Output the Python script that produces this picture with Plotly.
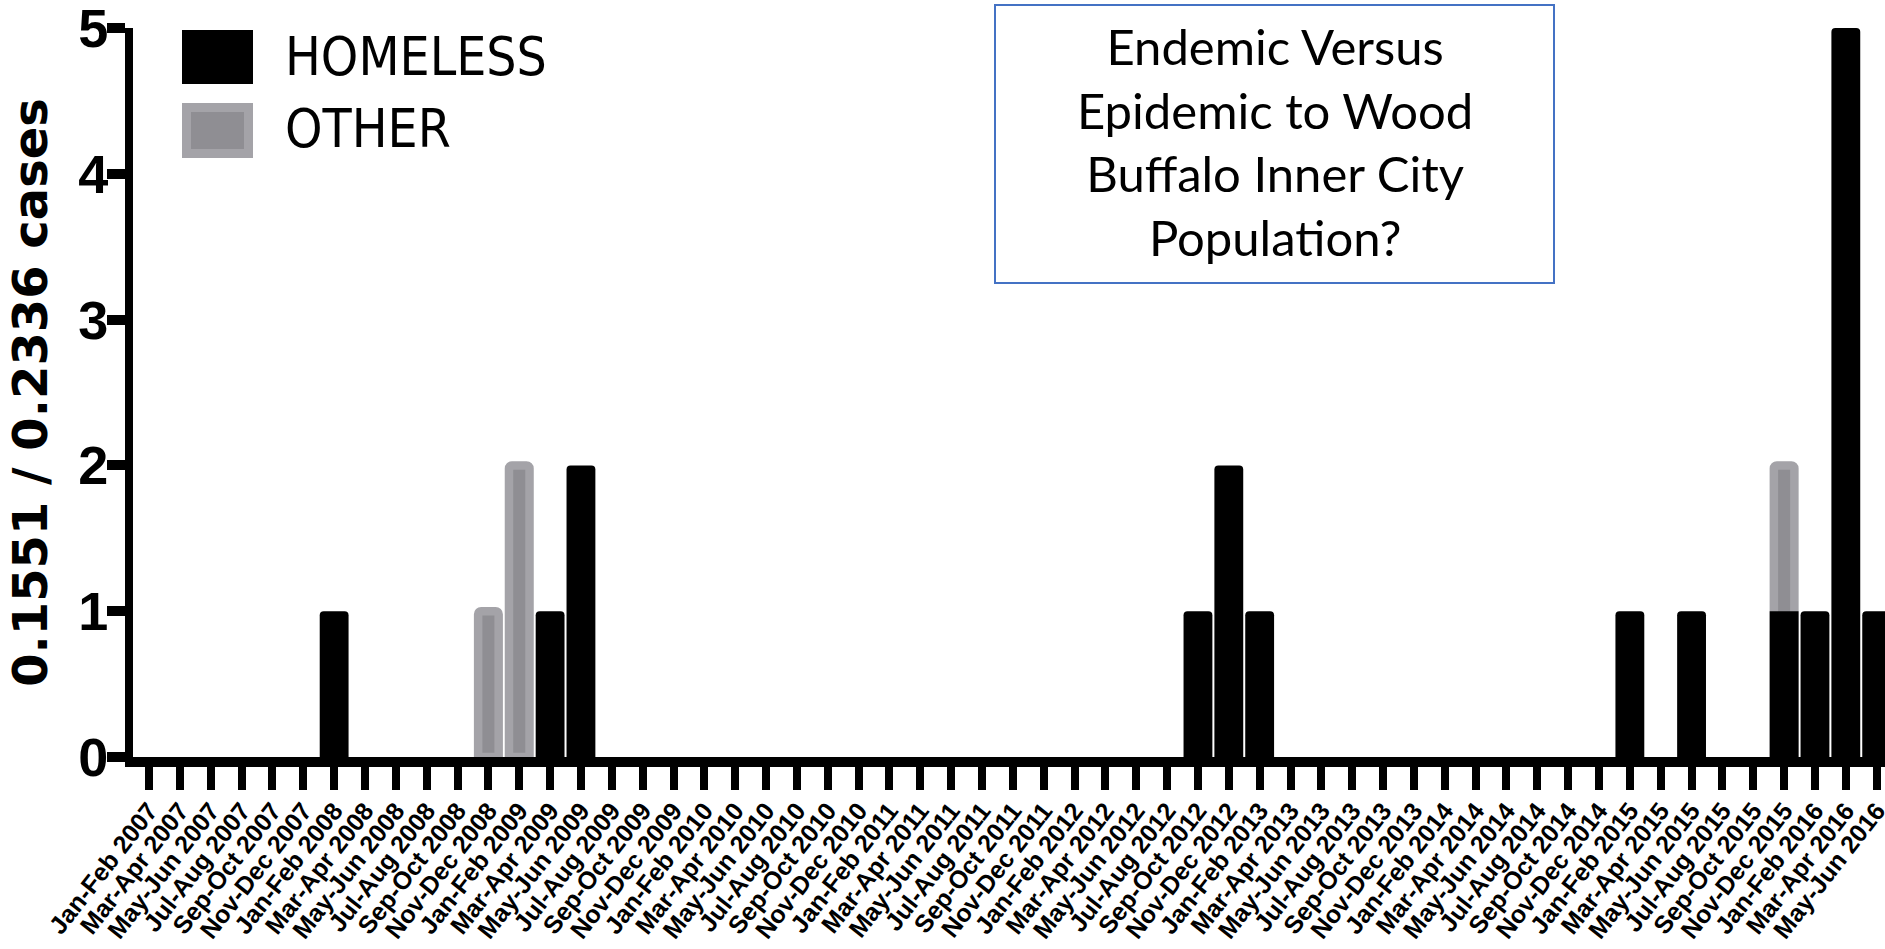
import plotly.graph_objects as go

# ---------------- data ----------------
months = ["Jan-Feb", "Mar-Apr", "May-Jun", "Jul-Aug", "Sep-Oct", "Nov-Dec"]
years = [2007, 2008, 2009, 2010, 2011, 2012, 2013, 2014, 2015, 2016]
periods = [f"{m} {y}" for y in years for m in months][:57]

homeless = [
    0, 0, 0, 0, 0, 0,   # 2007
    1, 0, 0, 0, 0, 0,   # 2008
    0, 1, 2, 0, 0, 0,   # 2009
    0, 0, 0, 0, 0, 0,   # 2010
    0, 0, 0, 0, 0, 0,   # 2011
    0, 0, 0, 0, 1, 2,   # 2012
    1, 0, 0, 0, 0, 0,   # 2013
    0, 0, 0, 0, 0, 0,   # 2014
    1, 0, 1, 0, 0, 1,   # 2015
    1, 5, 1,            # 2016
]
other = [
    0, 0, 0, 0, 0, 0,   # 2007
    0, 0, 0, 0, 0, 1,   # 2008
    2, 0, 0, 0, 0, 0,   # 2009
    0, 0, 0, 0, 0, 0,   # 2010
    0, 0, 0, 0, 0, 0,   # 2011
    0, 0, 0, 0, 0, 0,   # 2012
    0, 0, 0, 0, 0, 0,   # 2013
    0, 0, 0, 0, 0, 0,   # 2014
    0, 0, 0, 0, 0, 2,   # 2015
    0, 0, 0,            # 2016
]
y_ticks = [0, 1, 2, 3, 4, 5]
y_title = "0.1551 / 0.2336 cases"
box_text = "Endemic Versus<br>Epidemic to Wood<br>Buffalo Inner City<br>Population?"

# ---------------- layout geometry ----------------
W, H = 1885, 949
L, R, T, B = 133, 0, 28, 192
PW, PH = W - L - R, H - T - B


def px_x(p):
    return (p - L) / PW


def px_y(p):
    return (H - B - p) / PH


BLACK = "#000000"
GRAY_IN = "#8f8e93"
GRAY_OUT = "#a4a3a8"

fig = go.Figure()
fig.add_trace(go.Bar(
    x=periods, y=other, name="OTHER", width=0.665,
    marker=dict(color=GRAY_IN, cornerradius=3,
                line=dict(color=GRAY_OUT, width=[8.5 if v else 0 for v in other])),
))
fig.add_trace(go.Bar(
    x=periods, y=homeless, name="HOMELESS", width=0.935,
    marker=dict(color=BLACK, cornerradius=4, line=dict(width=0)),
))

arial = "Liberation Sans, Arial, sans-serif"
condensed = "DejaVu Sans Condensed, DejaVu Sans, sans-serif"

fig.update_layout(
    template="none",
    width=W, height=H,
    margin=dict(l=L, r=R, t=T, b=B, pad=0, autoexpand=False),
    barmode="overlay",
    showlegend=False,
    plot_bgcolor="white", paper_bgcolor="white",
    xaxis=dict(
        type="category", range=[-0.52, 56.27], automargin=False,
        showline=True, linewidth=10, linecolor=BLACK,
        ticks="outside", ticklen=23, tickwidth=8, tickcolor=BLACK,
        tickangle=-52, tickmode="array", tickvals=periods, ticktext=periods,
        ticklabelstandoff=-4, ticklabelshift=0, ticklabeloverflow="allow",
        tickfont=dict(family=arial, size=25, color=BLACK, weight="bold"),
        showgrid=False, zeroline=False,
    ),
    yaxis=dict(
        range=[0, 5], tickmode="array", tickvals=y_ticks, automargin=False,
        showline=True, linewidth=8, linecolor=BLACK,
        ticks="outside", ticklen=18, tickwidth=10, tickcolor=BLACK,
        ticklabelstandoff=-12, ticklabeloverflow="allow",
        tickfont=dict(family=arial, size=54, color=BLACK, weight="bold"),
        title=dict(text=y_title, standoff=18,
                   font=dict(family="DejaVu Sans, sans-serif", size=48,
                             color=BLACK, weight="bold")),
        showgrid=False, zeroline=False,
    ),
)

# custom legend (large swatches like the original)
fig.add_shape(type="rect", xref="paper", yref="paper",
              x0=px_x(182), x1=px_x(253), y0=px_y(84), y1=px_y(30),
              fillcolor=BLACK, line=dict(width=0))
fig.add_shape(type="rect", xref="paper", yref="paper",
              x0=px_x(186.5), x1=px_x(248.5), y0=px_y(153.5), y1=px_y(107.5),
              fillcolor=GRAY_IN, line=dict(color=GRAY_OUT, width=9))
fig.add_annotation(text="HOMELESS", xref="paper", yref="paper",
                   x=px_x(283), y=px_y(56), xanchor="left", yanchor="middle",
                   showarrow=False,
                   font=dict(family=condensed, size=53, color=BLACK))
fig.add_annotation(text="OTHER", xref="paper", yref="paper",
                   x=px_x(283), y=px_y(129), xanchor="left", yanchor="middle",
                   showarrow=False,
                   font=dict(family=condensed, size=53, color=BLACK))

# text box
fig.add_shape(type="rect", xref="paper", yref="paper",
              x0=px_x(995), x1=px_x(1554), y0=px_y(283), y1=px_y(5),
              fillcolor="rgba(255,255,255,0)", line=dict(color="#4472c4", width=2))
fig.add_annotation(text=box_text, xref="paper", yref="paper",
                   x=px_x(1274.5), y=px_y(141), xanchor="center", yanchor="middle",
                   align="center", showarrow=False,
                   font=dict(family="Lato, Open Sans, sans-serif", size=49, color=BLACK))

fig.write_html(
    "out.html",
    config={"displayModeBar": False},
    post_script="document.body.style.margin='0';document.body.style.overflow='hidden';",
)
